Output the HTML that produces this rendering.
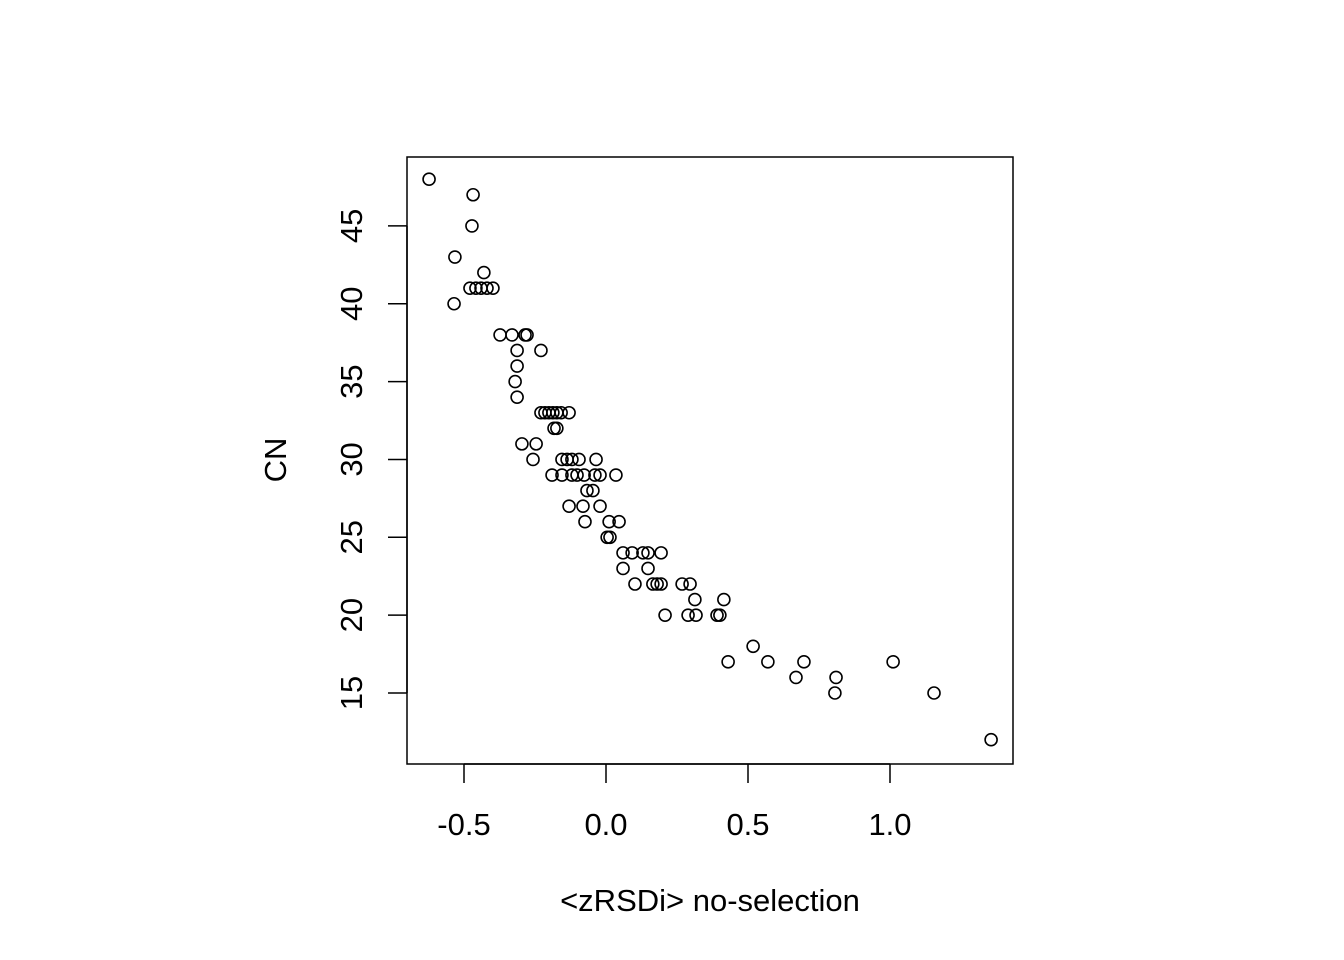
<!DOCTYPE html>
<html><head><meta charset="utf-8"><style>body{margin:0;background:#fff}svg{display:block}</style></head>
<body>
<svg id="chart" width="1344" height="960" xmlns="http://www.w3.org/2000/svg" font-family="Liberation Sans, Arial, sans-serif">
<rect x="407" y="157" width="606" height="607" fill="none" stroke="#000" stroke-width="1.5"/>
<g id="xaxis"></g>
<g id="yaxis"></g>
<g id="pts"></g>
<text x="710" y="911" font-size="31" text-anchor="middle">&lt;zRSDi&gt; no-selection</text>
<text transform="translate(286,460) rotate(-90)" font-size="31" text-anchor="middle">CN</text>
</svg>
<script>
const xTicks=[-0.5,0.0,0.5,1.0];
const xTickLabels=["-0.5","0.0","0.5","1.0"];
const yTicks=[15,20,25,30,35,40,45];
const xVals=[-0.623,-0.468,-0.472,-0.532,-0.430,-0.479,-0.458,-0.440,-0.419,-0.398,-0.535,-0.373,-0.331,-0.285,-0.278,-0.313,-0.229,-0.313,-0.320,-0.313,-0.229,-0.215,-0.201,-0.187,-0.173,-0.158,-0.130,-0.183,-0.173,-0.296,-0.246,-0.257,-0.155,-0.137,-0.120,-0.095,-0.035,-0.190,-0.155,-0.120,-0.102,-0.077,-0.039,-0.021,0.035,-0.067,-0.046,-0.130,-0.081,-0.021,-0.074,0.011,0.046,0.004,0.014,0.060,0.092,0.130,0.148,0.194,0.060,0.148,0.102,0.165,0.180,0.194,0.268,0.296,0.313,0.415,0.208,0.289,0.317,0.391,0.401,0.518,0.430,0.570,0.697,1.011,0.669,0.810,0.806,1.155,1.356];
const yVals=[48,47,45,43,42,41,41,41,41,41,40,38,38,38,38,37,37,36,35,34,33,33,33,33,33,33,33,32,32,31,31,30,30,30,30,30,30,29,29,29,29,29,29,29,29,28,28,27,27,27,26,26,26,25,25,24,24,24,24,24,23,23,22,22,22,22,22,22,21,21,20,20,20,20,20,18,17,17,17,17,16,16,15,15,12];
const sx=v=>606+v*284;
const sy=v=>693-(v-15)*15.57;
const NS="http://www.w3.org/2000/svg";
function mk(t,a,p){const e=document.createElementNS(NS,t);for(const k in a)e.setAttribute(k,a[k]);p.appendChild(e);return e;}
const xa=document.getElementById('xaxis'),ya=document.getElementById('yaxis'),pg=document.getElementById('pts');
mk('line',{x1:sx(xTicks[0]),x2:sx(xTicks[xTicks.length-1]),y1:764,y2:764,stroke:'#000','stroke-width':1.5},xa);
xTicks.forEach((t,i)=>{
 const l=mk('line',{x1:sx(t),x2:sx(t),y1:764,y2:783,stroke:'#000','stroke-width':1.5},xa);
 
 
 const tx=mk('text',{x:sx(t),y:835,'font-size':31,'text-anchor':'middle'},xa);tx.textContent=xTickLabels[i];
 
 
});
mk('line',{x1:407,x2:407,y1:sy(yTicks[0]),y2:sy(yTicks[yTicks.length-1]),stroke:'#000','stroke-width':1.5},ya);
yTicks.forEach(t=>{
 const l=mk('line',{x1:388,x2:407,y1:sy(t),y2:sy(t),stroke:'#000','stroke-width':1.5},ya);
 
 
 const tx=mk('text',{transform:`translate(362,${sy(t)}) rotate(-90)`,'font-size':31,'text-anchor':'middle'},ya);tx.textContent=String(t);
 
 
});
xVals.forEach((v,i)=>{
 const c=mk('circle',{cx:sx(v),cy:sy(yVals[i]),r:6,fill:'none',stroke:'#000','stroke-width':1.6},pg);
 
 
});
</script>
</body></html>
